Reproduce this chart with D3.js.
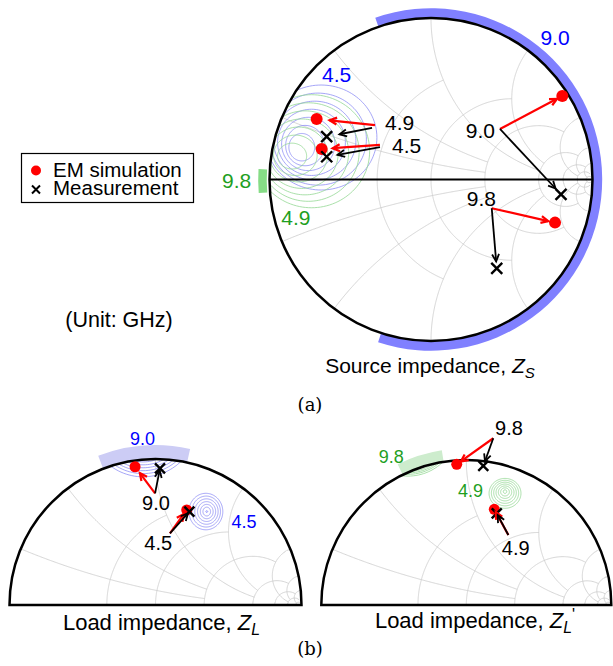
<!DOCTYPE html>
<html>
<head>
<meta charset="utf-8">
<script src="https://cdn.jsdelivr.net/npm/d3@7"></script>
<style>
body{margin:0;background:#fff;}
svg{display:block;}
text{font-family:"Liberation Sans",Arial,sans-serif;}
</style>
</head>
<body>
<div id="fig"></div>
<script>
// all points are reflection coefficients [re, im]
// (a) source impedance Zs
let srcFreq = ["4.5", "4.9", "9.0", "9.8"];
let srcSim = [[-0.677, 0.189], [-0.708, 0.375], [0.813, 0.517], [0.768, -0.267]];
let srcMeas = [[-0.646, 0.141], [-0.646, 0.265], [0.805, -0.092], [0.407, -0.55]];
// (b) load impedance ZL (4.5 / 9.0 GHz)
let ldFreq = ["4.5", "9.0"];
let ldSim = [[0.214, 0.651], [-0.14, 0.947]];
let ldMeas = [[0.232, 0.639], [0.031, 0.936]];
// (b) load impedance ZL' (4.9 / 9.8 GHz)
let ldpFreq = ["4.9", "9.8"];
let ldpSim = [[0.193, 0.66], [-0.066, 0.97]];
let ldpMeas = [[0.21, 0.632], [0.117, 0.959]];

// load-pull contours: [cx, cy, rx, ry]
let srcBlue45 = [[-0.68,0.26,0.345,0.325],[-0.70,0.25,0.30,0.285],[-0.72,0.24,0.255,0.245],[-0.74,0.23,0.21,0.205],[-0.76,0.22,0.165,0.165],[-0.78,0.21,0.12,0.125],[-0.80,0.20,0.08,0.085]];
let srcGreen49 = [[-0.74,0.175,0.36,0.35],[-0.76,0.17,0.315,0.305],[-0.78,0.165,0.27,0.26],[-0.80,0.16,0.225,0.215],[-0.82,0.155,0.18,0.17],[-0.84,0.15,0.135,0.125],[-0.86,0.145,0.09,0.08]];
let ldBlue90 = [[-0.085,1.25,0.27,0.27],[-0.085,1.25,0.29,0.29],[-0.085,1.25,0.31,0.31],[-0.085,1.25,0.33,0.33],[-0.085,1.25,0.35,0.35],[-0.085,1.25,0.372,0.372]];
let ldBlue45 = [[0.345,0.64,0.116,0.125],[0.347,0.64,0.098,0.106],[0.349,0.64,0.08,0.087],[0.35,0.64,0.062,0.068],[0.351,0.64,0.044,0.049],[0.351,0.64,0.026,0.03],[0.351,0.64,0.006,0.006]];
let ldpGreen98 = [[-0.402,1.236,0.315,0.315],[-0.402,1.236,0.325,0.325],[-0.402,1.236,0.335,0.335],[-0.402,1.236,0.347,0.347]];
let ldpGreen49 = [[0.267,0.77,0.11,0.103],[0.267,0.772,0.094,0.088],[0.267,0.774,0.078,0.073],[0.267,0.776,0.062,0.058],[0.267,0.778,0.046,0.043],[0.267,0.78,0.03,0.028],[0.267,0.782,0.012,0.012]];

// smith grid: [r, max |x|] and [x, max r]
let rGrid = [[0.5, 1], [1, 2], [2, 5], [5, 10], [10, 20], [20, 50], [50, Infinity]];
let xGrid = [[0.2, 2], [0.5, 2], [1, 5], [2, 5], [5, 20], [10, 20], [20, 50]];

let w = 613, h = 666;
let svg = d3.select("#fig").append("svg").attr("width", w).attr("height", h);

function gam(r, x) {
  let d = (r + 1) * (r + 1) + x * x;
  return [(r * r + x * x - 1) / d, 2 * x / d];
}

function makeChart(id, cx, cy, R, half) {
  let sx = d3.scaleLinear().domain([-1, 1]).range([cx - R, cx + R]);
  let sy = d3.scaleLinear().domain([-1, 1]).range([cy + R, cy - R]);
  let g = svg.append("g");
  let clip = svg.append("clipPath").attr("id", id);
  if (half) {
    clip.append("path").attr("d", `M${cx - R},${cy} A${R},${R} 0 0 1 ${cx + R},${cy} Z`);
  } else {
    clip.append("circle").attr("cx", cx).attr("cy", cy).attr("r", R);
  }
  let inner = g.append("g").attr("clip-path", `url(#${id})`);
  let line = d3.line().x(d => sx(d[0])).y(d => sy(d[1]));
  rGrid.forEach(([r, xm]) => {
    let pts = d3.range(0, 401).map(i => gam(r, Math.tan((-1 + i / 200) * Math.atan(xm) * 0.99999)));
    inner.append("path").attr("d", line(pts)).attr("fill", "none").attr("stroke", "#cccccc").attr("stroke-width", 0.8);
  });
  xGrid.forEach(([x, rm]) => {
    [x, -x].forEach(xx => {
      let pts = d3.range(0, 201).map(i => gam(Math.tan(i / 200 * Math.atan(rm)), xx));
      inner.append("path").attr("d", line(pts)).attr("fill", "none").attr("stroke", "#cccccc").attr("stroke-width", 0.8);
    });
  });
  return {g: g, inner: inner, sx: sx, sy: sy, cx: cx, cy: cy, R: R, half: half};
}

function contours(ch, rings, color) {
  let line = d3.line().x(d => ch.sx(d[0])).y(d => ch.sy(d[1])).curve(d3.curveLinearClosed);
  rings.forEach(([x0, y0, rx, ry]) => {
    let pts = d3.range(0, 120).map(i => {
      let a = i / 120 * 2 * Math.PI;
      return [x0 + rx * Math.cos(a), y0 + ry * Math.sin(a)];
    });
    ch.inner.append("path").attr("d", line(pts)).attr("fill", "none")
      .attr("stroke", color).attr("stroke-width", 0.8);
  });
}

function band(ch, r0, r1, a0, a1, color) {
  let rad = d => d * Math.PI / 180;
  let arc = d3.arc().innerRadius(r0 * ch.R).outerRadius(r1 * ch.R)
    .startAngle(Math.PI / 2 - rad(a1)).endAngle(Math.PI / 2 - rad(a0));
  ch.g.append("path").attr("d", arc()).attr("transform", `translate(${ch.cx},${ch.cy})`).attr("fill", color);
}

function frame(ch) {
  let {cx, cy, R} = ch;
  if (ch.half) {
    ch.g.append("path").attr("d", `M${cx - R},${cy} A${R},${R} 0 0 1 ${cx + R},${cy} Z`)
      .attr("fill", "none").attr("stroke", "black").attr("stroke-width", 2.5);
  } else {
    ch.g.append("circle").attr("cx", cx).attr("cy", cy).attr("r", R)
      .attr("fill", "none").attr("stroke", "black").attr("stroke-width", 2.5);
    ch.g.append("line").attr("x1", ch.sx(-1)).attr("x2", ch.sx(1)).attr("y1", ch.sy(0)).attr("y2", ch.sy(0))
      .attr("stroke", "black").attr("stroke-width", 2);
  }
}

function arrows(ch, list) {
  list.forEach(a => {
    let x0 = ch.sx(a.tail[0]), y0 = ch.sy(a.tail[1]);
    let x1 = ch.sx(a.to[0]), y1 = ch.sy(a.to[1]);
    let ang = Math.atan2(y1 - y0, x1 - x0);
    let tx = x1 - a.gap * Math.cos(ang), ty = y1 - a.gap * Math.sin(ang);
    let col = a.c == "red" ? "#ff0000" : "black";
    ch.g.append("line").attr("x1", x0).attr("y1", y0).attr("x2", tx).attr("y2", ty)
      .attr("stroke", col).attr("stroke-width", a.c == "red" ? 2.2 : 1.8);
    let hl = 8, hw = 0.45;
    let p = [[tx - hl * Math.cos(ang - hw), ty - hl * Math.sin(ang - hw)], [tx, ty], [tx - hl * Math.cos(ang + hw), ty - hl * Math.sin(ang + hw)]];
    ch.g.append("path").attr("d", d3.line()(p)).attr("fill", "none")
      .attr("stroke", col).attr("stroke-width", a.c == "red" ? 2.2 : 1.8);
  });
}

function markers(ch, sim, meas, rd, xs) {
  ch.g.selectAll(null).data(sim).join("circle")
    .attr("cx", d => ch.sx(d[0])).attr("cy", d => ch.sy(d[1])).attr("r", rd).attr("fill", "#ff0000");
  ch.g.selectAll(null).data(meas).join("path")
    .attr("d", d => {
      let x = ch.sx(d[0]), y = ch.sy(d[1]);
      return `M${x - xs},${y - xs}L${x + xs},${y + xs}M${x - xs},${y + xs}L${x + xs},${y - xs}`;
    })
    .attr("stroke", "black").attr("stroke-width", 2.4).attr("fill", "none");
}

function labels(ch, list) {
  list.forEach(l => {
    ch.g.append("text").attr("x", ch.sx(l[1])).attr("y", ch.sy(l[2]))
      .attr("text-anchor", l[3]).attr("fill", l[4]).attr("font-size", l[5]).text(l[0]);
  });
}

function title(x, y, size, sub, prime) {
  let t = svg.append("text").attr("x", x).attr("y", y).attr("text-anchor", "middle").attr("font-size", size);
  t.append("tspan").text("Source impedance, ".replace("Source", sub == "S" ? "Source" : "Load"));
  t.append("tspan").attr("font-style", "italic").text("Z");
  t.append("tspan").attr("font-style", "italic").attr("font-size", size * 0.72).attr("dy", 5).text(sub);
  if (prime) t.append("tspan").attr("font-size", size * 0.72).attr("dy", -13).text("'");
}

let blueTxt = "#0000ff", greenTxt = "#1f9f1f";

// (a) source chart
let src = makeChart("clipA", 431, 179.5, 161.5, false);
contours(src, srcBlue45, "#8f8ff5");
contours(src, srcGreen49, "#94d894");
band(src, 1.0, 1.06, -108, 109, "#8080ff");
band(src, 1.017, 1.07, 176.5, 184.5, "#86dc86");
frame(src);
markers(src, srcSim, srcMeas, 6, 5.5);
arrows(src, [
  {tail: [-0.347, 0.337], to: srcSim[1], c: "red", gap: 13},
  {tail: [-0.365, 0.319], to: srcMeas[1], c: "black", gap: 13},
  {tail: [-0.316, 0.214], to: srcSim[0], c: "red", gap: 11},
  {tail: [-0.316, 0.201], to: srcMeas[0], c: "black", gap: 11},
  {tail: [0.427, 0.313], to: srcSim[2], c: "red", gap: 6},
  {tail: [0.427, 0.313], to: srcMeas[2], c: "black", gap: 8},
  {tail: [0.376, -0.178], to: srcSim[3], c: "red", gap: 7},
  {tail: [0.376, -0.178], to: srcMeas[3], c: "black", gap: 7}
]);
labels(src, [
  [srcFreq[1], -0.285, 0.307, "start", "black", 21],
  [srcFreq[0], -0.241, 0.164, "start", "black", 21],
  [srcFreq[2], 0.396, 0.257, "end", "black", 21],
  [srcFreq[3], 0.402, -0.167, "end", "black", 21],
  [srcFreq[2], 0.768, 0.833, "middle", blueTxt, 21],
  [srcFreq[0], -0.584, 0.606, "middle", blueTxt, 21],
  [srcFreq[1], -0.837, -0.282, "middle", greenTxt, 21],
  [srcFreq[3], -1.203, -0.053, "middle", greenTxt, 21]
]);
title(430, 373, 21, "S", false);

// legend
svg.append("rect").attr("x", 21.5).attr("y", 153.5).attr("width", 172).attr("height", 49)
  .attr("fill", "white").attr("stroke", "black").attr("stroke-width", 1.2);
svg.append("circle").attr("cx", 36).attr("cy", 170.5).attr("r", 5).attr("fill", "#ff0000");
svg.append("path").attr("d", "M32,185.5L40,193.5M32,193.5L40,185.5").attr("stroke", "black").attr("stroke-width", 2);
svg.append("text").attr("x", 53).attr("y", 177).attr("font-size", 20.5).text("EM simulation");
svg.append("text").attr("x", 53).attr("y", 195).attr("font-size", 20.5).text("Measurement");
svg.append("text").attr("x", 119).attr("y", 326.5).attr("text-anchor", "middle").attr("font-size", 21.5).text("(Unit: GHz)");

// (b) load charts
let ld = makeChart("clipB1", 155.5, 605, 146, true);
band(ld, 1.0, 1.095, 77.5, 111, "#ccccf5");
contours(ld, ldBlue90, "#8f8ff5");
contours(ld, ldBlue45, "#8f8ff5");
frame(ld);
markers(ld, ldSim, ldMeas, 5.5, 5);
arrows(ld, [
  {tail: [-0.003, 0.765], to: ldSim[1], c: "red", gap: 8},
  {tail: [-0.003, 0.765], to: ldMeas[1], c: "black", gap: 2},
  {tail: [0.099, 0.491], to: ldSim[0], c: "red", gap: 5},
  {tail: [0.099, 0.491], to: ldMeas[0], c: "black", gap: 2}
]);
labels(ld, [
  [ldFreq[1], 0.003, 0.651, "middle", "black", 20],
  [ldFreq[0], 0.019, 0.377, "middle", "black", 20],
  [ldFreq[1], -0.089, 1.096, "middle", blueTxt, 18],
  [ldFreq[0], 0.607, 0.524, "middle", blueTxt, 18]
]);
title(161.5, 630, 22, "L", false);

let ldp = makeChart("clipB2", 466.3, 605, 145, true);
band(ldp, 1.0, 1.08, 99, 116, "#cdeccd");
contours(ldp, ldpGreen98, "#94d894");
contours(ldp, ldpGreen49, "#94d894");
frame(ldp);
markers(ldp, ldpSim, ldpMeas, 5.5, 5);
arrows(ldp, [
  {tail: [0.186, 1.15], to: ldpSim[1], c: "red", gap: 5},
  {tail: [0.186, 1.15], to: ldpMeas[1], c: "black", gap: 5},
  {tail: [0.29, 0.483], to: ldpSim[0], c: "red", gap: 3},
  {tail: [0.29, 0.483], to: ldpMeas[0], c: "black", gap: 2}
]);
labels(ldp, [
  [ldpFreq[1], 0.294, 1.172, "middle", "black", 20],
  [ldpFreq[0], 0.341, 0.345, "middle", "black", 20],
  [ldpFreq[1], -0.517, 0.981, "middle", greenTxt, 18],
  [ldpFreq[0], 0.029, 0.747, "middle", greenTxt, 18]
]);
title(475, 628, 22, "L", true);

// panel captions
svg.append("text").attr("x", 310).attr("y", 411).attr("text-anchor", "middle")
  .style("font-family", "'DejaVu Serif',serif").attr("font-size", 18).text("(a)");
svg.append("text").attr("x", 310).attr("y", 655).attr("text-anchor", "middle")
  .style("font-family", "'DejaVu Serif',serif").attr("font-size", 18).text("(b)");
</script>
</body>
</html>
